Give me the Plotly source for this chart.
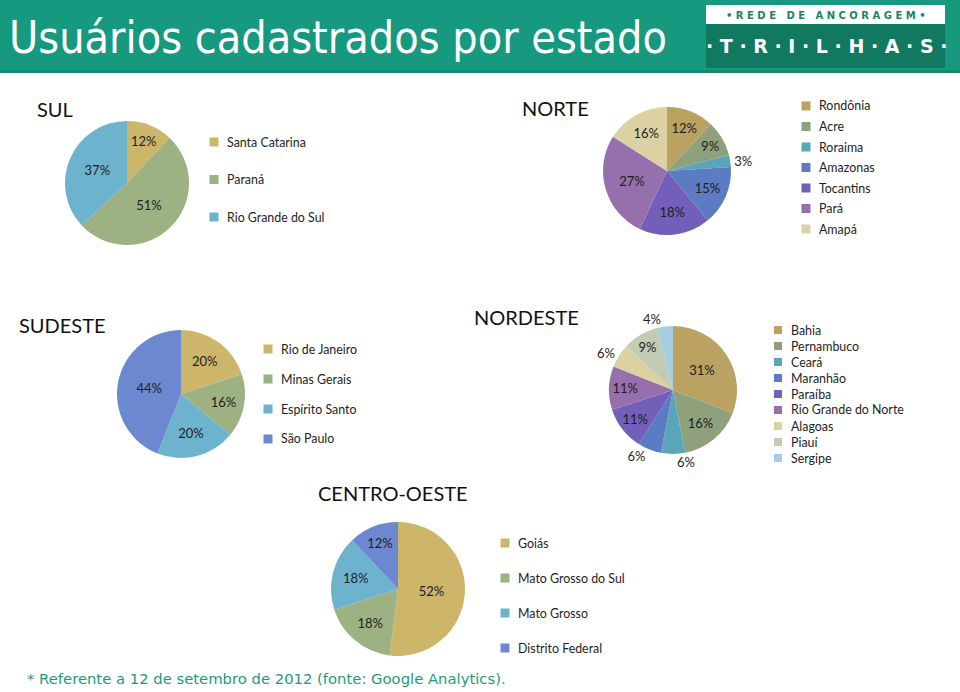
import plotly.graph_objects as go

W, H = 960, 692

sul_estados = ["Santa Catarina", "Paraná", "Rio Grande do Sul"]
sul_pct = [12, 51, 37]
sul_cores = ["#CDB66A", "#9DB182", "#6DB3CD"]

norte_estados = ["Rondônia", "Acre", "Roraima", "Amazonas", "Tocantins", "Pará", "Amapá"]
norte_pct = [12, 9, 3, 15, 18, 27, 16]
norte_cores = ["#B9A262", "#8FA07C", "#5BA5B8", "#5B7CC2", "#735FB9", "#9670AD", "#DCD1A3"]

sudeste_estados = ["Rio de Janeiro", "Minas Gerais", "Espírito Santo", "São Paulo"]
sudeste_pct = [20, 16, 20, 44]
sudeste_cores = ["#CDB66A", "#9DB182", "#6DB3CD", "#6C88D1"]

nordeste_estados = ["Bahia", "Pernambuco", "Ceará", "Maranhão", "Paraíba",
                    "Rio Grande do Norte", "Alagoas", "Piauí", "Sergipe"]
nordeste_pct = [31, 16, 6, 6, 11, 11, 6, 9, 4]
nordeste_cores = ["#B9A262", "#8FA07C", "#5BA5B8", "#5B7CC2", "#735FB9",
                  "#9670AD", "#DCD1A3", "#C1CCB3", "#A5CFE0"]

co_estados = ["Goiás", "Mato Grosso do Sul", "Mato Grosso", "Distrito Federal"]
co_pct = [52, 18, 18, 12]
co_cores = ["#CDB66A", "#9DB182", "#6DB3CD", "#6C88D1"]

FONTE = "Lato, Open Sans, sans-serif"
VERDE = "#16997E"


def px(x):
    return x / W


def py(y):
    return 1 - y / H


def pizza(valores, nomes, cores, cx, cy, r, posicoes="inside"):
    return go.Pie(
        values=valores, labels=nomes, sort=False, direction="clockwise", rotation=0,
        marker=dict(colors=cores, line=dict(width=0)),
        texttemplate="%{value}%", textposition=posicoes,
        insidetextorientation="horizontal",
        textfont=dict(family=FONTE, size=13, color="#1e1e1e"),
        domain=dict(x=[px(cx - r), px(cx + r)], y=[py(cy + r), py(cy - r)]),
        showlegend=False, hoverinfo="label+percent",
    )


fig = go.Figure()
fig.add_trace(pizza(sul_pct, sul_estados, sul_cores, 127, 183, 62))
norte_pos = ["inside"] * len(norte_pct)
norte_pos[2] = "outside"
fig.add_trace(pizza(norte_pct, norte_estados, norte_cores, 667, 171, 64, norte_pos))
fig.add_trace(pizza(sudeste_pct, sudeste_estados, sudeste_cores, 181, 394, 64))
nordeste_pos = ["inside", "inside", "outside", "outside", "inside", "inside", "outside", "inside", "outside"]
fig.add_trace(pizza(nordeste_pct, nordeste_estados, nordeste_cores, 673, 390, 64, nordeste_pos))
fig.add_trace(pizza(co_pct, co_estados, co_cores, 398, 589, 67))

shapes = []
anns = []

# cabeçalho
shapes.append(dict(type="rect", xref="paper", yref="paper", x0=0, x1=1, y0=py(72), y1=1,
                   fillcolor=VERDE, line=dict(width=0), layer="below"))
shapes.append(dict(type="rect", xref="paper", yref="paper", x0=0, x1=1, y0=py(73), y1=py(70),
                   fillcolor="#128A70", line=dict(width=0), layer="below"))
anns.append(dict(text="Usuários cadastrados por estado", x=px(7), y=py(38), xanchor="left",
                 yanchor="middle", showarrow=False,
                 font=dict(family="DejaVu Sans Condensed, DejaVu Sans, sans-serif", size=44.5, color="white")))

# logotipo
shapes.append(dict(type="rect", xref="paper", yref="paper", x0=px(706), x1=px(945), y0=py(24), y1=py(5),
                   fillcolor="white", line=dict(width=0)))
shapes.append(dict(type="rect", xref="paper", yref="paper", x0=px(706), x1=px(945), y0=py(68), y1=py(24),
                   fillcolor="#10795F", line=dict(width=0)))
anns.append(dict(text="<b>• R E D E   D E   A N C O R A G E M •</b>", x=px(826), y=py(15),
                 xanchor="center", yanchor="middle", showarrow=False,
                 font=dict(family="DejaVu Sans, sans-serif", size=10, color="#1A8468")))
anns.append(dict(text="<b>· T · R · I · L · H · A · S ·</b>", x=px(826), y=py(46),
                 xanchor="center", yanchor="middle", showarrow=False,
                 font=dict(family="DejaVu Sans, sans-serif", size=19, color="white")))

# títulos das regiões
for txt, x, y in [("SUL", 35, 109), ("NORTE", 520, 108), ("SUDESTE", 17, 325),
                  ("NORDESTE", 472, 317), ("CENTRO-OESTE", 316, 493)]:
    anns.append(dict(text=txt, x=px(x), y=py(y), xanchor="left", yanchor="middle", showarrow=False,
                     font=dict(family=FONTE, size=20, color="#111111")))


def legenda(nomes, cores, xq, y0, passo, lado=9):
    for i, (n, c) in enumerate(zip(nomes, cores)):
        y = y0 + i * passo
        shapes.append(dict(type="rect", xref="paper", yref="paper",
                           x0=px(xq - lado / 2), x1=px(xq + lado / 2),
                           y0=py(y + lado / 2), y1=py(y - lado / 2),
                           fillcolor=c, line=dict(width=0)))
        anns.append(dict(text=n, x=px(xq + 11), y=py(y), xanchor="left", yanchor="middle",
                         showarrow=False, font=dict(family=FONTE, size=12.4, color="#1e1e1e")))


legenda(sul_estados, sul_cores, 214, 142, 37.5)
legenda(norte_estados, norte_cores, 806, 106, 20.5)
legenda(sudeste_estados, sudeste_cores, 268, 349, 30)
legenda(nordeste_estados, nordeste_cores, 778, 330, 16, lado=8)
legenda(co_estados, co_cores, 505, 543, 35)

anns.append(dict(text="* Referente a 12 de setembro de 2012 (fonte: Google Analytics).",
                 x=px(25), y=py(678), xanchor="left", yanchor="middle", showarrow=False,
                 font=dict(family="DejaVu Sans, sans-serif", size=14.8, color="#1E9A7E")))

fig.update_layout(width=W, height=H, margin=dict(l=0, r=0, t=0, b=0),
                  paper_bgcolor="white", plot_bgcolor="white",
                  shapes=shapes, annotations=anns)

fig.write_html("out.html", config={"displayModeBar": False},
               post_script="document.body.style.margin='0';")
